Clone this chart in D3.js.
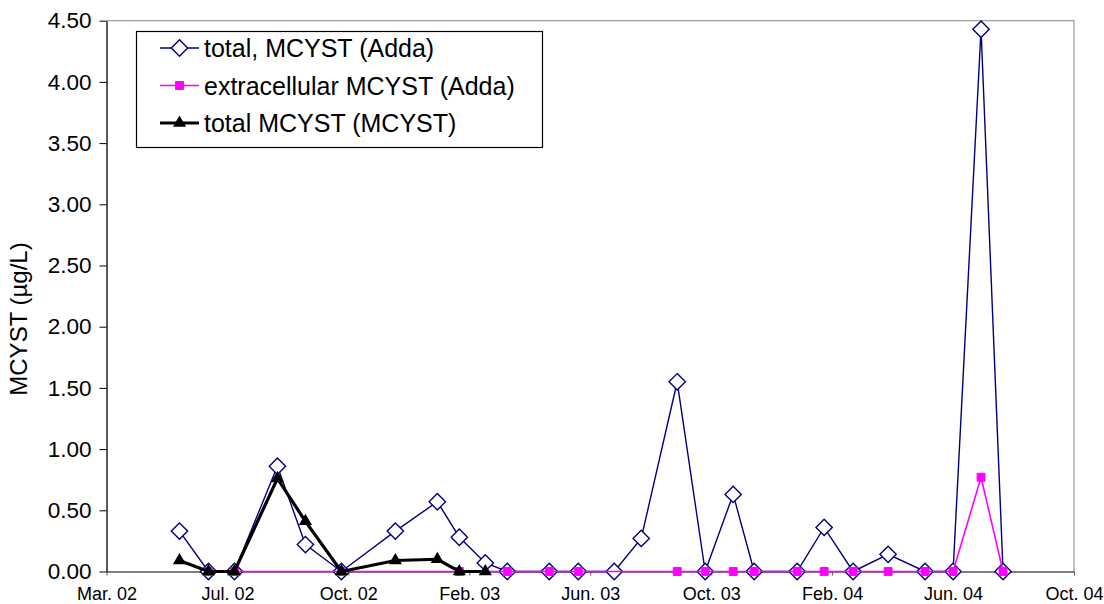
<!DOCTYPE html>
<html>
<head>
<meta charset="utf-8">
<script src="https://cdn.jsdelivr.net/npm/d3@7"></script>
<style>
  html, body { margin: 0; padding: 0; background: #fff; }
  svg { display: block; font-family: "Liberation Sans", Arial, sans-serif; }
</style>
</head>
<body>
<svg id="chart" width="1104" height="604"></svg>
<script>
// ---- data ----
const seriesNames = ["total, MCYST (Adda)", "extracellular MCYST (Adda)", "total MCYST (MCYST)"];

const totalAddaDates = ["2002-05-14","2002-06-12","2002-07-08","2002-08-20","2002-09-17","2002-10-23",
  "2002-12-16","2003-01-27","2003-02-18","2003-03-16","2003-04-07","2003-05-19","2003-06-17",
  "2003-07-23","2003-08-19","2003-09-24","2003-10-22","2003-11-19","2003-12-10","2004-01-22",
  "2004-02-18","2004-03-18","2004-04-22","2004-05-29","2004-06-26","2004-07-24","2004-08-15"];
const totalAddaValues = [0.33, 0, 0, 0.86, 0.22, 0,
  0.33, 0.57, 0.28, 0.07, 0, 0, 0,
  0, 0.27, 1.55, 0, 0.63, 0, 0,
  0.36, 0, 0.14, 0, 0, 4.43, 0];

const extraAddaDates = ["2002-06-12","2002-07-08","2002-10-23","2003-02-18","2003-04-07","2003-05-19",
  "2003-06-17","2003-09-24","2003-10-22","2003-11-19","2003-12-10","2004-01-22","2004-02-18",
  "2004-03-18","2004-04-22","2004-05-29","2004-06-26","2004-07-24","2004-08-15"];
const extraAddaValues = [0, 0, 0, 0, 0, 0,
  0, 0, 0, 0, 0, 0, 0,
  0, 0, 0, 0, 0.77, 0];

const totalMcystDates = ["2002-05-14","2002-06-12","2002-07-08","2002-08-20","2002-09-17","2002-10-23",
  "2002-12-16","2003-01-27","2003-02-18","2003-03-16"];
const totalMcystValues = [0.09, 0, 0, 0.76, 0.41, 0, 0.09, 0.10, 0, 0];

const xDomain = ["2002-03-02", "2004-10-25"];
const xTickStepDays = 121;
const yDomain = [0, 4.5];
const yTickValues = [0, 0.5, 1, 1.5, 2, 2.5, 3, 3.5, 4, 4.5];
const yTitle = "MCYST (µg/L)";

// ---- layout ----
const parse = d3.utcParse("%Y-%m-%d");
const pLeft = 106.5, pRight = 1074, pTop = 20.7, pBottom = 571.5;

const x = d3.scaleUtc().domain(xDomain.map(parse)).range([pLeft, pRight]);
const y = d3.scaleLinear().domain(yDomain).range([pBottom, pTop]);

const svg = d3.select("#chart");

// plot border (top & right)
svg.append("path")
  .attr("d", `M${pLeft},${pTop}H${pRight}V${pBottom}`)
  .attr("fill", "none").attr("stroke", "#a0a0a0").attr("stroke-width", 1.3);

// x ticks
const xTicks = d3.range(0, 9).map(i => d3.utcDay.offset(parse(xDomain[0]), i * xTickStepDays));
const fmtX = d3.utcFormat("%b. %y");
const xAxis = svg.append("g").attr("transform", `translate(0,${pBottom})`)
  .call(d3.axisBottom(x).tickValues(xTicks).tickFormat(fmtX).tickSize(4).tickPadding(12).tickSizeOuter(0));
xAxis.select(".domain").attr("stroke", "#555").attr("stroke-width", 1.6);
xAxis.selectAll(".tick line").attr("stroke", "#555");
xAxis.selectAll("text").attr("font-size", 18).attr("fill", "#000");

// y axis
const yAxis = svg.append("g").attr("transform", `translate(${pLeft},0)`)
  .call(d3.axisLeft(y).tickValues(yTickValues).tickFormat(d3.format(".2f")).tickSize(7).tickPadding(8).tickSizeOuter(0));
yAxis.select(".domain").attr("stroke", "#000").attr("stroke-width", 1.3);
yAxis.selectAll(".tick line").attr("stroke", "#000");
yAxis.selectAll("text").attr("font-size", 22.5).attr("fill", "#000");

svg.append("text")
  .attr("transform", `translate(21,319) rotate(-90)`)
  .attr("text-anchor", "middle").attr("dominant-baseline", "middle")
  .attr("font-size", 24).text(yTitle);

// ---- series ----
function build(dates, vals) { return dates.map((d, i) => ({ date: parse(d), v: vals[i] })); }
const line = d3.line().x(d => x(d.date)).y(d => y(d.v));

const s1 = build(totalAddaDates, totalAddaValues);
const s2 = build(extraAddaDates, extraAddaValues);
const s3 = build(totalMcystDates, totalMcystValues);

const diamond = d3.symbol().type(d3.symbolDiamond2).size(170);
const square = d3.symbol().type(d3.symbolSquare2).size(80);
const tri = d3.symbol().type(d3.symbolTriangle).size(75);

// series 1 (navy)
svg.append("path").datum(s1).attr("d", line).attr("fill", "none").attr("stroke", "#000080").attr("stroke-width", 1.4);
svg.append("g").selectAll("path").data(s1).join("path")
  .attr("transform", d => `translate(${x(d.date)},${y(d.v)})`)
  .attr("d", diamond).attr("fill", "#fff").attr("stroke", "#000080").attr("stroke-width", 1.4);

// series 2 (magenta)
svg.append("path").datum(s2).attr("d", line).attr("fill", "none").attr("stroke", "#ff00ff").attr("stroke-width", 1.6);
svg.append("g").selectAll("path").data(s2).join("path")
  .attr("transform", d => `translate(${x(d.date)},${y(d.v)})`)
  .attr("d", square).attr("fill", "#ff00ff").attr("stroke", "#ff00ff").attr("stroke-width", 1);

// series 3 (black)
svg.append("path").datum(s3).attr("d", line).attr("fill", "none").attr("stroke", "#000").attr("stroke-width", 3.2);
svg.append("g").selectAll("path").data(s3).join("path")
  .attr("transform", d => `translate(${x(d.date)},${y(d.v)})`)
  .attr("d", tri).attr("fill", "#000");

// ---- legend ----
const lg = svg.append("g");
lg.append("rect").attr("x", 136.5).attr("y", 31.5).attr("width", 406).attr("height", 116)
  .attr("fill", "#fff").attr("stroke", "#000").attr("stroke-width", 1.2);
const legendRows = [
  { name: seriesNames[0], color: "#000080", w: 1.4, sym: diamond, fill: "#fff", sw: 1.4 },
  { name: seriesNames[1], color: "#ff00ff", w: 1.6, sym: square, fill: "#ff00ff", sw: 1 },
  { name: seriesNames[2], color: "#000", w: 3.2, sym: tri, fill: "#000", sw: 0 }
];
legendRows.forEach((r, i) => {
  const cy = 48 + i * 37.5;
  lg.append("line").attr("x1", 160).attr("x2", 199).attr("y1", cy).attr("y2", cy)
    .attr("stroke", r.color).attr("stroke-width", r.w);
  lg.append("path").attr("transform", `translate(179.5,${cy})`).attr("d", r.sym)
    .attr("fill", r.fill).attr("stroke", r.sw ? r.color : "none").attr("stroke-width", r.sw);
  lg.append("text").attr("x", 204).attr("y", cy).attr("dominant-baseline", "central")
    .attr("font-size", 25).text(r.name);
});
</script>
</body>
</html>
